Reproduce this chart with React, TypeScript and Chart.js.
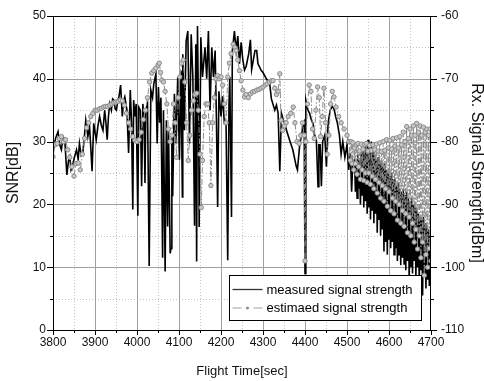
import React, { useEffect, useRef } from "react";
import { Chart, registerables } from "chart.js";

Chart.register(...registerables);

// Axis ranges
const timeRange = [3800, 4700];
const snrRange = [0, 50];
const dbmRange = [-110, -60];
const timeStep = 100;
const snrStep = 10;

const xTitle = "Flight Time[sec]";
const yTitle = "SNR[dB]";
const y2Title = "Rx. Signal Strength[dBm]";
const measuredLabel = "measured signal strength";
const estimatedLabel = "estimaed signal strength";

// [time sec, SNR dB]
const measuredSeries: [number, number][] = [
  [3800, 28.2], [3806, 30.5], [3812, 31.6], [3816, 29.5], [3820, 28.7], [3824, 30.8], [3828, 30.3],
  [3833, 24.7], [3837, 27], [3840, 27.6], [3843, 25.5], [3846, 26], [3851, 27.5], [3856, 28.7],
  [3860, 27.2], [3863, 29.7], [3867, 27.8], [3871, 28.2], [3875, 31], [3878, 33.4], [3883, 30.8],
  [3887, 32.4], [3890, 29], [3893, 25.3], [3897, 32.9], [3900, 31.5], [3903, 30.3], [3907, 32.5],
  [3911, 34], [3915, 32.6], [3919, 31.8], [3923, 35], [3926, 33], [3929, 30.3], [3932, 34],
  [3935, 36], [3939, 35], [3942, 36.8], [3945, 36.6], [3948, 35.2], [3951, 35], [3954, 36.5],
  [3957, 37.1], [3961, 39], [3965, 34], [3968, 36.4], [3971, 37.1], [3976, 35], [3980, 28.2],
  [3984, 38.2], [3987, 33], [3990, 19.2], [3992, 36.6], [3995, 34], [3998, 36], [4002, 18.2],
  [4004, 35.5], [4008, 35], [4011, 22.9], [4014, 36], [4017, 33], [4019, 23.4], [4021, 35],
  [4025, 36], [4029, 10.2], [4033, 38.2], [4037, 37], [4040, 39.2], [4045, 40.8], [4048, 29.7],
  [4051, 38.7], [4054, 33], [4057, 37], [4061, 11.5], [4063, 35], [4067, 9.3], [4070, 33.4],
  [4073, 16.5], [4075, 32], [4079, 12.2], [4081, 13], [4083, 30.8], [4085, 21.3], [4089, 37.6],
  [4093, 29.7], [4097, 40.3], [4101, 27.1], [4105, 41.3], [4108, 21.2], [4109, 43.9], [4113, 31.8],
  [4117, 46], [4121, 47.6], [4125, 29.7], [4129, 47.1], [4133, 40.3], [4137, 16.6], [4140, 45.5],
  [4142, 10.9], [4144, 48.4], [4147, 31.8], [4148, 16.4], [4152, 46.6], [4156, 40.3], [4162, 45],
  [4166, 40], [4170, 47.6], [4174, 35], [4178, 45], [4182, 40.3], [4186, 44.5], [4189, 34],
  [4192, 19.6], [4195, 38], [4200, 34], [4204, 37.2], [4208, 32.9], [4212, 33], [4216, 11.1],
  [4219, 36], [4221, 40.3], [4225, 18], [4227, 44.5], [4232, 47.6], [4236, 44.5], [4240, 46.8],
  [4244, 42.4], [4248, 45.8], [4252, 43], [4256, 41.4], [4260, 42], [4266, 44], [4270, 46.2],
  [4273, 41.5], [4277, 43], [4281, 44.5], [4285, 44.5], [4288, 42.4], [4296, 41.3], [4300, 41],
  [4308, 40], [4316, 39.2], [4320, 36.8], [4328, 35], [4332, 35.8], [4336, 34.5], [4340, 25.3],
  [4344, 34.5], [4348, 33.5], [4352, 32.9], [4356, 31.8], [4363, 30.3], [4371, 28.7], [4379, 26.1],
  [4382, 25.5], [4387, 29.2], [4395, 32.4], [4398, 33], [4400, 9], [4402, 36.6], [4407, 35],
  [4411, 34.5], [4415, 33.5], [4419, 32.9], [4423, 31], [4427, 30.3], [4431, 22.8], [4433, 29.5],
  [4436, 29.5], [4439, 22.9], [4442, 30], [4447, 31], [4451, 26], [4455, 33], [4460, 35],
  [4465, 35.6], [4469, 35.2], [4473, 34], [4477, 33], [4482, 31], [4486, 28], [4490, 30],
  [4495, 27.5], [4500, 29.5], [4504, 25.5], [4508, 28.2], [4511, 22], [4514, 27], [4516, 26.6],
  [4518, 27], [4520, 22], [4522, 26.5], [4524, 21], [4526, 28], [4528, 22.5], [4530, 27],
  [4532, 20], [4534, 28.5], [4536, 21.5], [4538, 29], [4540, 19.5], [4542, 29.5], [4544, 20.5],
  [4546, 30], [4548, 18.5], [4550, 30.3], [4552, 19.5], [4554, 29.5], [4556, 17.6], [4558, 30],
  [4560, 19], [4562, 28.5], [4564, 17], [4566, 28], [4568, 18.5], [4570, 27], [4572, 15.5],
  [4574, 27.5], [4576, 17.5], [4578, 26.5], [4580, 15], [4582, 27], [4584, 16], [4586, 26],
  [4588, 12.5], [4590, 26.5], [4592, 14], [4594, 25.5], [4596, 12], [4598, 25], [4600, 14.5],
  [4602, 24.5], [4604, 13], [4606, 25], [4608, 14], [4610, 24], [4612, 12], [4614, 24],
  [4616, 13], [4618, 23], [4620, 11], [4622, 23.5], [4624, 12], [4626, 22.5], [4628, 10.3],
  [4630, 22], [4632, 11.5], [4634, 22.5], [4636, 10.5], [4638, 21.5], [4640, 9.5], [4642, 22],
  [4644, 11], [4646, 21], [4648, 8.7], [4650, 20.5], [4652, 10], [4654, 21], [4656, 9],
  [4658, 20], [4660, 11], [4662, 19.5], [4664, 8.5], [4666, 19], [4668, 10], [4670, 18.5],
  [4672, 7.5], [4674, 18], [4676, 9.5], [4678, 17.5], [4680, 5.5], [4682, 18], [4684, 8.5],
  [4686, 17], [4688, 6.6], [4690, 16.5], [4692, 8], [4694, 16], [4696, 7], [4698, 15.5], [4700, 9],
];

const estimatedSeries: [number, number][] = [
  [3800, 27.6], [3805, 29.5], [3810, 29.7], [3815, 30.5], [3820, 30.8], [3825, 30], [3830, 30.3],
  [3835, 28.7], [3840, 27.5], [3845, 26], [3850, 24.5], [3855, 26.5], [3860, 26.6], [3865, 25.5],
  [3870, 28], [3875, 30.5], [3880, 32.2], [3885, 33], [3890, 34], [3895, 34.5], [3900, 35],
  [3905, 35], [3910, 35.2], [3915, 35.3], [3920, 35.5], [3925, 35.6], [3930, 35.6], [3935, 35.8],
  [3940, 36], [3945, 36.2], [3950, 36.3], [3955, 36.4], [3960, 36.6], [3965, 36.5], [3970, 35.8],
  [3975, 34.5], [3980, 33], [3985, 32], [3990, 30.8], [3995, 30.2], [4000, 30], [4005, 30.3],
  [4010, 31.5], [4015, 33.5], [4020, 35], [4025, 37], [4030, 39.5], [4035, 40.9], [4040, 41.3],
  [4045, 41.7], [4050, 42.2], [4053, 42.5], [4056, 41], [4059, 39.8], [4063, 39.5], [4067, 38],
  [4071, 36], [4075, 32], [4079, 30], [4083, 31], [4087, 36], [4091, 33], [4094, 27.5],
  [4098, 37], [4102, 40.3], [4106, 42.5], [4110, 43], [4114, 39.5], [4118, 33], [4122, 27],
  [4126, 31], [4130, 35], [4134, 36.5], [4138, 37.5], [4142, 37.7], [4146, 35], [4150, 28],
  [4153, 19.5], [4156, 27], [4160, 34], [4164, 36], [4168, 36], [4172, 33], [4176, 23],
  [4180, 33], [4184, 37], [4188, 40], [4192, 40.5], [4196, 40], [4200, 40.3], [4204, 39],
  [4208, 36], [4212, 33], [4216, 40.3], [4220, 42.5], [4224, 44], [4229, 45.5], [4233, 45],
  [4236, 44.5], [4240, 43], [4244, 41.3], [4248, 39.7], [4252, 38.2], [4256, 37.1], [4260, 37.5],
  [4265, 37], [4270, 37.6], [4275, 37.9], [4280, 38], [4285, 38.2], [4290, 38.3], [4295, 38.5],
  [4300, 38.7], [4305, 39], [4310, 39.2], [4315, 39.5], [4320, 39.7], [4324, 39.7], [4328, 38.5],
  [4332, 37.5], [4336, 38], [4340, 40.8], [4343, 33.4], [4347, 31.8], [4351, 32.5], [4355, 33],
  [4360, 34], [4366, 34.5], [4372, 35.5], [4376, 33], [4381, 30], [4386, 29.7], [4390, 31],
  [4394, 33], [4398, 31], [4400, 11], [4402, 30], [4406, 36], [4410, 39], [4414, 38],
  [4418, 32], [4422, 30.5], [4426, 35], [4430, 38.7], [4434, 37], [4437, 30.8], [4441, 34],
  [4445, 38.5], [4449, 33], [4453, 28], [4457, 31], [4461, 36], [4465, 38], [4469, 37.1],
  [4474, 35.5], [4480, 34], [4486, 33], [4493, 32], [4500, 31], [4505, 30],
  [4508, 27], [4510, 30], [4512, 26.5], [4514, 29.8], [4516, 25.5], [4518, 29], [4520, 26.5],
  [4522, 29.5], [4524, 24.8], [4526, 29.7], [4528, 26], [4530, 28.5], [4532, 24], [4534, 29.6],
  [4536, 25.5], [4538, 28.8], [4540, 23.8], [4542, 29.5], [4544, 25], [4546, 29.7], [4548, 23.5],
  [4550, 28.5], [4552, 25], [4554, 29.4], [4556, 23.2], [4558, 28.6], [4560, 24.5], [4562, 29.5],
  [4564, 22.5], [4566, 28.7], [4568, 24], [4570, 29.6], [4572, 21.8], [4574, 28.5], [4576, 23.5],
  [4578, 29.8], [4580, 21], [4582, 28.4], [4584, 23], [4586, 30], [4588, 20.5], [4590, 28.6],
  [4592, 22.5], [4594, 30.3], [4596, 19.7], [4598, 29], [4600, 22], [4602, 30.2], [4604, 19],
  [4606, 28.8], [4608, 21], [4610, 30.5], [4612, 18.5], [4614, 29.3], [4616, 20.5], [4618, 30.6],
  [4620, 17.5], [4622, 29], [4624, 20], [4626, 30.8], [4628, 17], [4630, 29.5], [4632, 19],
  [4634, 31.5], [4636, 16.5], [4638, 30], [4640, 18.5], [4642, 32.4], [4644, 15.5], [4646, 30.5],
  [4648, 18], [4650, 32], [4652, 15], [4654, 31], [4656, 17], [4658, 32.5], [4660, 14],
  [4662, 31], [4664, 16], [4666, 32.9], [4668, 12.9], [4670, 31.5], [4672, 15], [4674, 32.5],
  [4676, 11.5], [4678, 31], [4680, 14], [4682, 32.3], [4684, 8.7], [4686, 31.5], [4688, 12],
  [4690, 32], [4692, 10], [4694, 31], [4696, 13], [4698, 32], [4700, 11],
];

const FONT = "'Liberation Sans', Arial, Helvetica, sans-serif";
const TEXT = "#111";
const GRAY = "#8a8a8a";

const decorPlugin = {
  id: "decor",
  beforeDatasetsDraw(chart: any) {
    const { ctx, chartArea: a, scales } = chart;
    const xs = scales.x;
    const ys = scales.y;
    const vline = (v: number) => {
      const p = Math.round(xs.getPixelForValue(v)) + 0.5;
      ctx.beginPath();
      ctx.moveTo(p, a.top);
      ctx.lineTo(p, a.bottom);
      ctx.stroke();
    };
    const hline = (v: number) => {
      const p = Math.round(ys.getPixelForValue(v)) + 0.5;
      ctx.beginPath();
      ctx.moveTo(a.left, p);
      ctx.lineTo(a.right, p);
      ctx.stroke();
    };
    ctx.save();
    ctx.lineWidth = 1;
    ctx.strokeStyle = "#c4c4c4";
    ctx.setLineDash([1, 2]);
    for (let t = timeRange[0] + timeStep / 2; t < timeRange[1]; t += timeStep) vline(t);
    for (let v = snrRange[0] + snrStep / 2; v < snrRange[1]; v += snrStep) hline(v);
    ctx.setLineDash([]);
    ctx.strokeStyle = "#a0a0a0";
    for (let t = timeRange[0] + timeStep; t < timeRange[1]; t += timeStep) vline(t);
    for (let v = snrRange[0] + snrStep; v < snrRange[1]; v += snrStep) hline(v);
    ctx.restore();
  },
  afterDatasetsDraw(chart: any) {
    const { ctx, chartArea: a, scales } = chart;
    const xs = scales.x;
    const ys = scales.y;
    ctx.save();
    ctx.strokeStyle = "#000";
    ctx.lineWidth = 1;
    ctx.setLineDash([]);
    ctx.strokeRect(Math.round(a.left) + 0.5, Math.round(a.top) + 0.5, Math.round(a.right - a.left) - 1, Math.round(a.bottom - a.top));
    // tick marks
    ctx.beginPath();
    for (let v = snrRange[0]; v <= snrRange[1]; v += snrStep / 2) {
      const p = Math.round(ys.getPixelForValue(v)) + 0.5;
      const len = v % snrStep === 0 ? 6 : 3;
      ctx.moveTo(a.left - len, p);
      ctx.lineTo(a.left, p);
      ctx.moveTo(a.right, p);
      ctx.lineTo(a.right + len, p);
    }
    for (let t = timeRange[0]; t <= timeRange[1]; t += timeStep / 2) {
      const p = Math.round(xs.getPixelForValue(t)) + 0.5;
      const len = t % timeStep === 0 ? 5 : 3;
      ctx.moveTo(p, a.bottom);
      ctx.lineTo(p, a.bottom + len);
    }
    ctx.stroke();

    // legend box
    const w = 192;
    const h = 45;
    const lx = Math.round(a.right) - 202 + 0.5;
    const ly = Math.round(a.bottom) - 55 + 0.5;
    ctx.fillStyle = "#fff";
    ctx.fillRect(lx, ly, w, h);
    ctx.strokeStyle = "#000";
    ctx.strokeRect(lx, ly, w, h);
    const r1 = ly + 14;
    const r2 = ly + 32.5;
    ctx.strokeStyle = "#333";
    ctx.lineWidth = 1.3;
    ctx.beginPath();
    ctx.moveTo(lx + 3, r1);
    ctx.lineTo(lx + 33, r1);
    ctx.stroke();
    ctx.strokeStyle = "#a0a0a0";
    ctx.lineWidth = 1.2;
    ctx.beginPath();
    ctx.moveTo(lx + 3, r2);
    ctx.lineTo(lx + 12, r2);
    ctx.moveTo(lx + 24, r2);
    ctx.lineTo(lx + 33, r2);
    ctx.stroke();
    ctx.fillStyle = "#909090";
    ctx.beginPath();
    ctx.arc(lx + 18, r2, 1.6, 0, Math.PI * 2);
    ctx.fill();
    ctx.fillStyle = "#000";
    ctx.font = `13px ${FONT}`;
    ctx.textBaseline = "middle";
    ctx.textAlign = "left";
    ctx.fillText(measuredLabel, lx + 37, r1 + 0.5);
    ctx.fillText(estimatedLabel, lx + 37, r2 + 0.5);
    ctx.restore();
  },
};

const plainNumber = (v: any) => String(v);

export default function App() {
  const canvasRef = useRef<HTMLCanvasElement | null>(null);

  useEffect(() => {
    const canvas = canvasRef.current;
    if (!canvas) return;
    const tickFont = { family: FONT, size: 12 };
    const hiddenTickGrid = {
      drawOnChartArea: false,
      drawTicks: true,
      tickColor: "rgba(0,0,0,0)",
    };
    const chart = new Chart(canvas, {
      type: "line",
      data: {
        datasets: [
          {
            label: estimatedLabel,
            data: estimatedSeries.map(([x, y]) => ({ x, y })),
            borderColor: GRAY,
            borderWidth: 1,
            borderDash: [6, 2, 1.5, 2],
            pointRadius: 2.2,
            pointBorderWidth: 1,
            pointBorderColor: GRAY,
            pointBackgroundColor: "#c8c8c8",
            tension: 0,
            order: 1,
            xAxisID: "x",
            yAxisID: "y",
          },
          {
            label: measuredLabel,
            data: measuredSeries.map(([x, y]) => ({ x, y })),
            borderColor: "#000",
            borderWidth: 1.6,
            pointRadius: 0,
            tension: 0,
            order: 2,
            xAxisID: "x",
            yAxisID: "y",
          },
        ],
      },
      options: {
        animation: false,
        responsive: false,
        devicePixelRatio: 1,
        layout: { padding: { top: 16, left: 0, right: 0, bottom: 0 } },
        plugins: { legend: { display: false }, tooltip: { enabled: false } },
        scales: {
          x: {
            type: "linear",
            position: "bottom",
            min: timeRange[0],
            max: timeRange[1],
            ticks: { stepSize: timeStep, font: tickFont, color: TEXT, padding: 0, maxRotation: 0, autoSkip: false, callback: plainNumber },
            grid: { ...hiddenTickGrid, tickLength: 5 },
            border: { display: false },
            title: {
              display: true,
              text: xTitle,
              color: TEXT,
              font: { family: FONT, size: 13, lineHeight: 1 },
              padding: { top: 0, bottom: 3 },
            },
            afterFit: (s: any) => {
              s.height = 51;
            },
          },
          y: {
            type: "linear",
            position: "left",
            min: snrRange[0],
            max: snrRange[1],
            ticks: { stepSize: snrStep, font: tickFont, color: TEXT, padding: 1, callback: plainNumber },
            grid: { ...hiddenTickGrid, tickLength: 6 },
            border: { display: false },
            title: {
              display: true,
              text: yTitle,
              color: TEXT,
              font: { family: FONT, size: 16, lineHeight: 1 },
              padding: { top: 6, bottom: 0 },
            },
            afterFit: (s: any) => {
              s.width = 53;
            },
          },
          y2: {
            type: "linear",
            position: "right",
            min: dbmRange[0],
            max: dbmRange[1],
            ticks: { stepSize: snrStep, font: tickFont, color: TEXT, padding: 4, callback: plainNumber },
            grid: { ...hiddenTickGrid, tickLength: 6 },
            border: { display: false },
            title: {
              display: true,
              text: y2Title,
              color: TEXT,
              font: { family: FONT, size: 16, lineHeight: 1 },
              padding: { top: 0, bottom: 0 },
            },
            afterFit: (s: any) => {
              s.width = 53;
            },
          },
        },
      },
      plugins: [decorPlugin],
    });
    return () => chart.destroy();
  }, []);

  return (
    <div style={{ position: "absolute", left: 0, top: 0, width: 484, height: 381, background: "#fff" }}>
      <canvas ref={canvasRef} width={484} height={381} style={{ width: 484, height: 381, display: "block" }} />
    </div>
  );
}
